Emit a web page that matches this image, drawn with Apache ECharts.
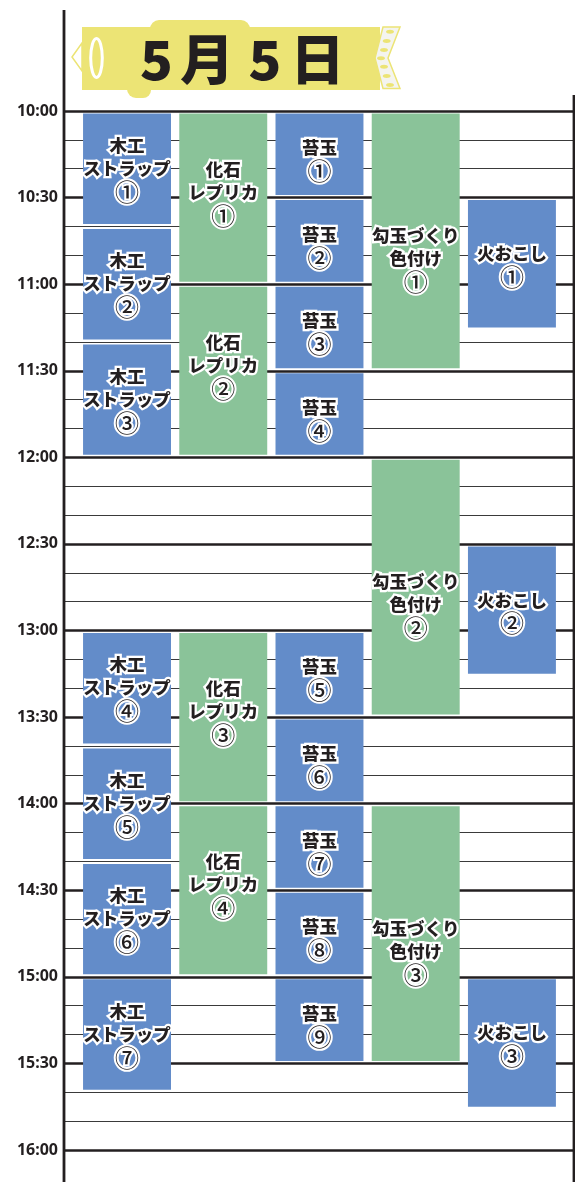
<!DOCTYPE html>
<html>
<head>
<meta charset="utf-8">
<script src="https://cdn.jsdelivr.net/npm/echarts@6/dist/echarts.min.js"></script>
<style>
  html, body { margin: 0; padding: 0; background: #fff; }
  #chart { width: 575px; height: 1182px; }
</style>
</head>
<body>
<div id="chart"></div>
<script>
// ---- data ----
const titleChars = ['5', '月', '5', '日'];
const timeLabels = ['10:00','10:30','11:00','11:30','12:00','12:30','13:00','13:30','14:00','14:30','15:00','15:30','16:00'];
const activities = ['木工\nストラップ', '化石\nレプリカ', '苔玉', '勾玉づくり\n色付け', '火おこし'];
const circled = ['①','②','③','④','⑤','⑥','⑦','⑧','⑨'];
const mokkouSessions = [['10:00','10:40'],['10:40','11:20'],['11:20','12:00'],['13:00','13:40'],['13:40','14:20'],['14:20','15:00'],['15:00','15:40']];
const kasekiSessions = [['10:00','11:00'],['11:00','12:00'],['13:00','14:00'],['14:00','15:00']];
const kokedamaSessions = [['10:00','10:30'],['10:30','11:00'],['11:00','11:30'],['11:30','12:00'],['13:00','13:30'],['13:30','14:00'],['14:00','14:30'],['14:30','15:00'],['15:00','15:30']];
const magatamaSessions = [['10:00','11:30'],['12:00','13:30'],['14:00','15:30']];
const hiokoshiSessions = [['10:30','11:15'],['12:30','13:15'],['15:00','15:45']];

// ---- styles ----
const BLUE = '#638CC9', GREEN = '#8AC399', YELLOW = '#ECE475', INK = '#231F20';
const colColors = [BLUE, GREEN, BLUE, GREEN, BLUE];
const labelShift = [0, -5, 5, 18, 3];
const bottomInset = [2.5, 2.5, 2.5, 2.5, 0];
const FONT = '"Noto Sans CJK JP"';

function toMin(t) { const p = t.split(':'); return (+p[0]) * 60 + (+p[1]); }
const allSessions = [mokkouSessions, kasekiSessions, kokedamaSessions, magatamaSessions, hiokoshiSessions];
const blocks = [];
allSessions.forEach((list, c) => {
  list.forEach((s, i) => {
    const lines = activities[c].split('\n').map(l => '{a|' + l + '}');
    lines.push('{n|' + circled[i] + '}');
    blocks.push({ value: [c, toMin(s[0]), toMin(s[1])], label: lines.join('\n') });
  });
});

const chart = echarts.init(document.getElementById('chart'), null, { renderer: 'canvas' });

function renderItem(params, api) {
  const c = api.value(0);
  const p1 = api.coord([c, api.value(1)]);
  const p2 = api.coord([c, api.value(2)]);
  const w = api.size([0.914, 0])[0];
  const item = blocks[params.dataIndex];
  return {
    type: 'group',
    children: [
      { type: 'rect', shape: { x: p1[0] - w / 2, y: p1[1] + 2.5, width: w, height: p2[1] - p1[1] - 2.5 - bottomInset[c] },
        style: { fill: colColors[c] } },
      { type: 'text', z2: 10,
        style: { text: item.label, x: p1[0], y: (p1[1] + p2[1]) / 2 + labelShift[c],
          align: 'center', verticalAlign: 'middle',
          fill: INK, stroke: '#fff', lineWidth: 4.5,
          rich: {
            a: { font: '900 17.5px ' + FONT, lineHeight: 23, fill: INK, stroke: '#fff', lineWidth: 4.5 },
            n: { font: '500 24px ' + FONT, lineHeight: 24, fill: INK, stroke: '#fff', lineWidth: 4 }
          } } }
    ]
  };
}

// ribbon dots on right end
const dotX = [390, 386.7, 384, 381, 384, 386.7, 390];
const dotY = [31.7, 41, 50, 58.3, 66.7, 76, 85];
const dots = dotX.map((x, i) => ({ type: 'ellipse', shape: { cx: x, cy: dotY[i], rx: 4, ry: 2 }, style: { fill: YELLOW }, z: 12 }));
const titleX = [156.5, 207, 265, 317.5];
const titleTexts = titleChars.map((ch, i) => ({
  type: 'text', z: 13, style: { text: ch, x: titleX[i], y: 59, align: 'center', verticalAlign: 'middle',
    font: '900 54px ' + FONT, fill: INK }
}));

chart.setOption({
  animation: false,
  grid: { left: 64, right: 1, top: 111, bottom: 32, containLabel: false },
  xAxis: { type: 'value', min: -0.655, max: 4.645, show: false },
  yAxis: {
    type: 'value', inverse: true, min: 600, max: 960, interval: 30,
    axisLine: { show: false }, axisTick: { show: false },
    axisLabel: { margin: 6, color: INK, fontFamily: 'Noto Sans', fontWeight: 'bold', fontSize: 16,
      formatter: v => timeLabels[Math.round((v - 600) / 30)] || '' },
    splitLine: { show: true, lineStyle: { color: INK, width: 2.6 } },
    minorTick: { show: false, splitNumber: 3 },
    minorSplitLine: { show: true, lineStyle: { color: '#3a3a3a', width: 1.1 } }
  },
  series: [{
    type: 'custom', renderItem: renderItem, data: blocks.map(b => b.value), clip: false,
    encode: { x: 0, y: [1, 2] }
  }],
  graphic: [
    { type: 'line', shape: { x1: 64, y1: 10, x2: 64, y2: 1182 }, style: { stroke: INK, lineWidth: 2.8 }, z: 20 },
    { type: 'line', shape: { x1: 574, y1: 95, x2: 574, y2: 1182 }, style: { stroke: INK, lineWidth: 2.8 }, z: 20 },
    // ribbon
    { type: 'rect', shape: { x: 150, y: 20, width: 100, height: 20, r: [9, 9, 0, 0] }, style: { fill: YELLOW }, z: 10 },
    { type: 'rect', shape: { x: 127, y: 80, width: 24, height: 18, r: [0, 0, 8, 9] }, style: { fill: YELLOW }, z: 10 },
    { type: 'rect', shape: { x: 82, y: 27, width: 298, height: 63 }, style: { fill: YELLOW }, z: 10 },
    { type: 'polygon', shape: { points: [[82, 43], [72, 57], [82, 71]] }, style: { fill: '#fff', stroke: YELLOW, lineWidth: 1.5 }, z: 11 },
    { type: 'ellipse', shape: { cx: 96.5, cy: 58, rx: 5.8, ry: 19.5 }, style: { fill: YELLOW, stroke: '#fff', lineWidth: 3 }, z: 11 },
    { type: 'polygon', shape: { points: [[383, 27], [400, 27], [388, 58], [400, 88.5], [383, 88.5], [375, 58]] },
      style: { fill: '#F4F4EF', stroke: YELLOW, lineWidth: 1.5 }, z: 11 }
  ].concat(dots, titleTexts)
});
</script>
</body>
</html>
